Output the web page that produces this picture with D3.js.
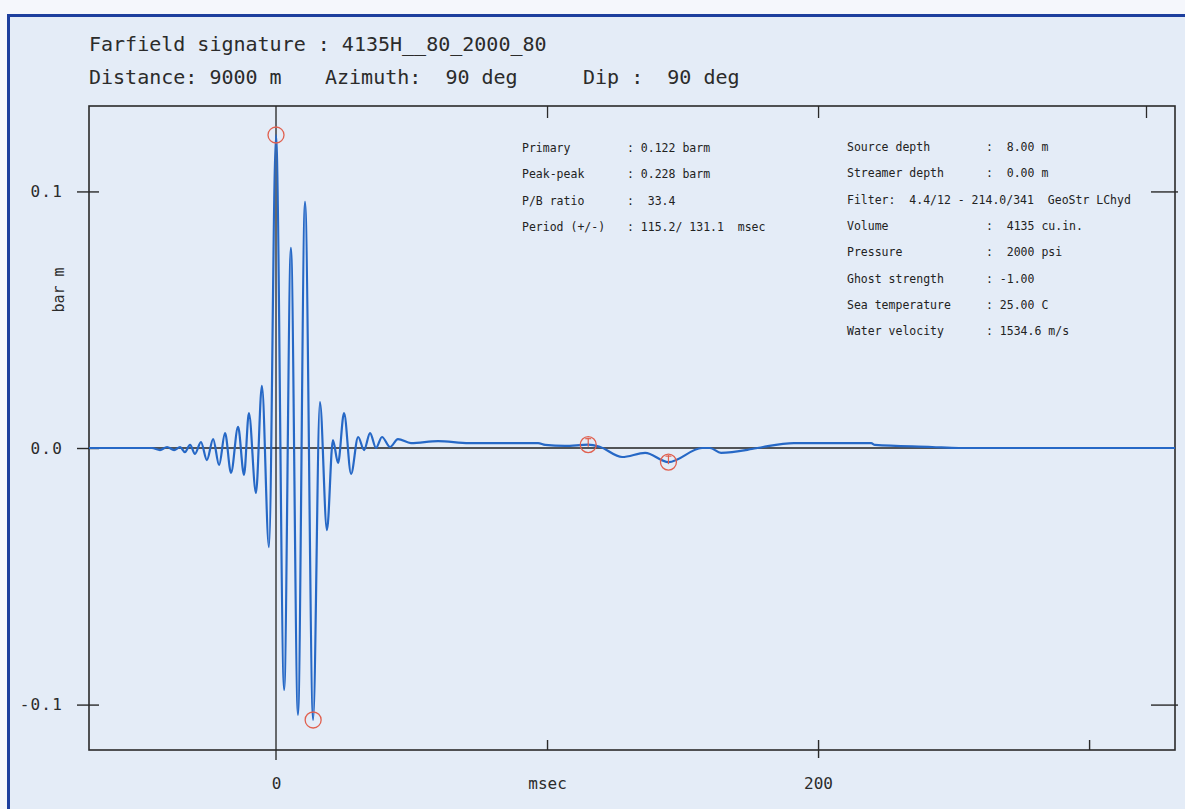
<!DOCTYPE html>
<html>
<head>
<meta charset="utf-8">
<script src="https://cdn.jsdelivr.net/npm/d3@7/dist/d3.min.js"></script>
<style>
  html, body { margin: 0; padding: 0; background: #f5f7fc; }
  svg { display: block; }
  text { font-family: "DejaVu Sans Mono", "Liberation Mono", monospace; }
</style>
</head>
<body>
<svg id="chart" width="1185" height="809"></svg>
<script>
// Farfield signature trace: sample times (msec) and pressure (bar m) at turning points
const times = [-69.0, -45.8, -42.8, -40.2, -37.6, -35.4, -33.6, -31.7, -29.9, -27.7,
  -25.5, -23.2, -21.0, -18.8, -16.6, -14.0, -11.8, -10.0, -7.4, -5.2,
  -2.6, 0.0, 3.0, 5.5, 8.1, 10.7, 13.7, 16.2, 18.8, 21.0,
  22.9, 25.1, 27.7, 30.3, 32.5, 34.7, 36.9, 39.1, 42.1, 45.0,
  49.8, 59.8, 71.2, 96.7, 99.3, 106.6, 115.2, 119.6, 127.7, 136.2,
  144.8, 157.2, 160.1, 164.2, 175.6, 179.7, 191.1, 219.6, 221.0, 242.1,
  252.0, 331.7];
const values = [0.0, 0.0, -0.0008, 0.0004, -0.0008, 0.0004, -0.0016, 0.0012, -0.0023, 0.0023,
  -0.0047, 0.0035, -0.0066, 0.0058, -0.0097, 0.0082, -0.0105, 0.0136, -0.0175, 0.0242,
  -0.0386, 0.122, -0.0943, 0.078, -0.104, 0.0959, -0.106, 0.0179, -0.032, 0.0031,
  -0.0058, 0.0136, -0.0101, 0.0043, -0.0008, 0.0058, 0.0, 0.0043, 0.0004, 0.0035,
  0.0019, 0.0027, 0.0019, 0.0019, 0.0012, 0.0008, 0.0013, 0.0004, -0.0035, -0.0019,
  -0.0055, 0.0, 0.0, -0.0019, -0.0004, 0.0004, 0.0019, 0.0019, 0.0012, 0.0004,
  0.0, 0.0];

// Picked events: primary peak, primary trough, bubble peak, bubble trough
const markerTimes  = [0.0, 13.7, 115.2, 144.8];
const markerValues = [0.122, -0.106, 0.0013, -0.0055];
const markerBubble = [false, false, true, true];

// Axis ticks and labels
const xTicksBottom = [0, 100, 200, 300];
const xLabelTicks = [0, 200];
const xTicksTop = [100, 200, 321];
const yTicks = [-0.1, 0.0, 0.1];

// Header and parameter listing
const titleLine = "Farfield signature : 4135H__80_2000_80";
const subtitleParts = ["Distance: 9000 m", "Azimuth:  90 deg", "Dip :  90 deg"];
const leftLabels = ["Primary", "Peak-peak", "P/B ratio", "Period (+/-)"];
const leftValues = [": 0.122 barm", ": 0.228 barm", ":  33.4", ": 115.2/ 131.1  msec"];
const rightLabels = ["Source depth", "Streamer depth", null, "Volume", "Pressure",
  "Ghost strength", "Sea temperature", "Water velocity"];
const rightValues = [":  8.00 m", ":  0.00 m", "Filter:  4.4/12 - 214.0/341  GeoStr LChyd",
  ":  4135 cu.in.", ":  2000 psi", ": -1.00", ": 25.00 C", ": 1534.6 m/s"];

const svg = d3.select("#chart");
const W = 1185, H = 809;
const plot = { left: 89, right: 1175, top: 106, bottom: 750 };

// Panel background with blue frame
svg.append("rect").attr("x", 0).attr("y", 0).attr("width", W).attr("height", H).attr("fill", "#f5f7fc");
svg.append("rect").attr("x", 8.5).attr("y", 15.5).attr("width", W + 10).attr("height", H + 10)
  .attr("fill", "#e4ecf7").attr("stroke", "#1d3f9e").attr("stroke-width", 3);

const x = d3.scaleLinear().domain([-69.0, 331.7]).range([plot.left, plot.right]);
const y = d3.scaleLinear().domain([-0.1177, 0.1333]).range([plot.bottom, plot.top]);

const ink = "#2b2b2b";

// Header text
svg.append("text").attr("x", 89).attr("y", 51).attr("font-size", 20).attr("fill", ink).text(titleLine);
const subX = [89, 325, 583];
subtitleParts.forEach((s, i) => {
  svg.append("text").attr("x", subX[i]).attr("y", 84).attr("font-size", 20).attr("fill", ink)
    .style("white-space", "pre").text(s);
});

// Zero line and t = 0 line
svg.append("line").attr("x1", plot.left).attr("x2", plot.right).attr("y1", y(0)).attr("y2", y(0))
  .attr("stroke", "#222").attr("stroke-width", 1.5);
svg.append("line").attr("x1", x(0)).attr("x2", x(0)).attr("y1", plot.top).attr("y2", plot.bottom + 10)
  .attr("stroke", "#222").attr("stroke-width", 1.3);

// Plot frame
svg.append("rect").attr("x", plot.left).attr("y", plot.top)
  .attr("width", plot.right - plot.left).attr("height", plot.bottom - plot.top)
  .attr("fill", "none").attr("stroke", "#2a2a2a").attr("stroke-width", 1.6);

// Left axis: ticks crossing the frame
const yAxis = d3.axisLeft(y).tickValues(yTicks).tickSize(12).tickPadding(14)
  .tickFormat(d => d.toFixed(1));
const gy = svg.append("g").attr("transform", `translate(${plot.left},0)`).call(yAxis);
gy.select(".domain").remove();
gy.selectAll(".tick line").attr("x1", 10).attr("stroke", "#2a2a2a").attr("stroke-width", 1.4);
gy.selectAll(".tick text").attr("font-family", "DejaVu Sans Mono").attr("font-size", 16)
  .attr("letter-spacing", 1.2).attr("fill", ink);

// Right axis ticks (no labels)
const yAxisR = d3.axisRight(y).tickValues(yTicks.filter(d => d !== 0)).tickSize(3).tickFormat("");
const gyr = svg.append("g").attr("transform", `translate(${plot.right},0)`).call(yAxisR);
gyr.select(".domain").remove();
gyr.selectAll(".tick line").attr("x1", -24).attr("stroke", "#2a2a2a").attr("stroke-width", 1.4);

// Bottom axis
const xAxis = d3.axisBottom(x).tickValues(xTicksBottom).tickSize(0).tickPadding(28)
  .tickFormat(d => xLabelTicks.includes(d) ? String(d) : (d === 100 ? "msec" : ""));
const gx = svg.append("g").attr("transform", `translate(0,${plot.bottom})`).call(xAxis);
gx.select(".domain").remove();
gx.selectAll(".tick line")
  .attr("y1", d => d === 0 ? 0 : -10)
  .attr("y2", d => d === 200 ? 8 : 0)
  .attr("stroke", "#2a2a2a").attr("stroke-width", 1.4);
gx.selectAll(".tick text").attr("font-family", "DejaVu Sans Mono").attr("font-size", 16).attr("fill", ink);

// Top axis ticks
const xAxisTop = d3.axisBottom(x).tickValues(xTicksTop).tickSize(12).tickFormat("");
const gxt = svg.append("g").attr("transform", `translate(0,${plot.top})`).call(xAxisTop);
gxt.select(".domain").remove();
gxt.selectAll(".tick line").attr("stroke", "#2a2a2a").attr("stroke-width", 1.3);

// Y axis title
svg.append("text").attr("transform", "translate(64,290) rotate(-90)")
  .attr("text-anchor", "middle").attr("font-size", 15).attr("fill", ink).text("bar m");

// Parameter listing
const rowGap = 26.3;
leftLabels.forEach((s, i) => {
  const yy = 152 + i * rowGap;
  svg.append("text").attr("x", 522).attr("y", yy).attr("font-size", 11.5).attr("fill", "#222").text(s);
  svg.append("text").attr("x", 627).attr("y", yy).attr("font-size", 11.5).attr("fill", "#222")
    .style("white-space", "pre").text(leftValues[i]);
});
rightValues.forEach((s, i) => {
  const yy = 151 + i * rowGap;
  if (rightLabels[i] === null) {
    svg.append("text").attr("x", 847).attr("y", yy).attr("font-size", 11.5).attr("fill", "#222")
      .style("white-space", "pre").text(s);
  } else {
    svg.append("text").attr("x", 847).attr("y", yy).attr("font-size", 11.5).attr("fill", "#222").text(rightLabels[i]);
    svg.append("text").attr("x", 986).attr("y", yy).attr("font-size", 11.5).attr("fill", "#222")
      .style("white-space", "pre").text(s);
  }
});

// Signature trace
const trace = times.map((t, i) => [t, values[i]]);
const line = d3.line().x(d => x(d[0])).y(d => y(d[1])).curve(d3.curveMonotoneX);
svg.append("path").datum(trace).attr("d", line)
  .attr("fill", "none").attr("stroke", "#2668c6").attr("stroke-width", 2.2)
  .attr("stroke-linejoin", "round");

// Event markers
const markers = markerTimes.map((t, i) => ({ t, v: markerValues[i], bubble: markerBubble[i] }));
const mg = svg.append("g");
markers.forEach(m => {
  const cx = x(m.t), cy = y(m.v);
  mg.append("circle").attr("cx", cx).attr("cy", cy).attr("r", 8)
    .attr("fill", "none").attr("stroke", "#e0604f").attr("stroke-width", 1.3);
  if (m.bubble) {
    mg.append("line").attr("x1", cx).attr("x2", cx).attr("y1", cy - 7).attr("y2", cy + 2)
      .attr("stroke", "#e0604f").attr("stroke-width", 1.2);
    mg.append("line").attr("x1", cx - 3).attr("x2", cx + 3).attr("y1", cy - 6).attr("y2", cy - 6)
      .attr("stroke", "#e0604f").attr("stroke-width", 1.2);
  }
});
</script>
</body>
</html>
